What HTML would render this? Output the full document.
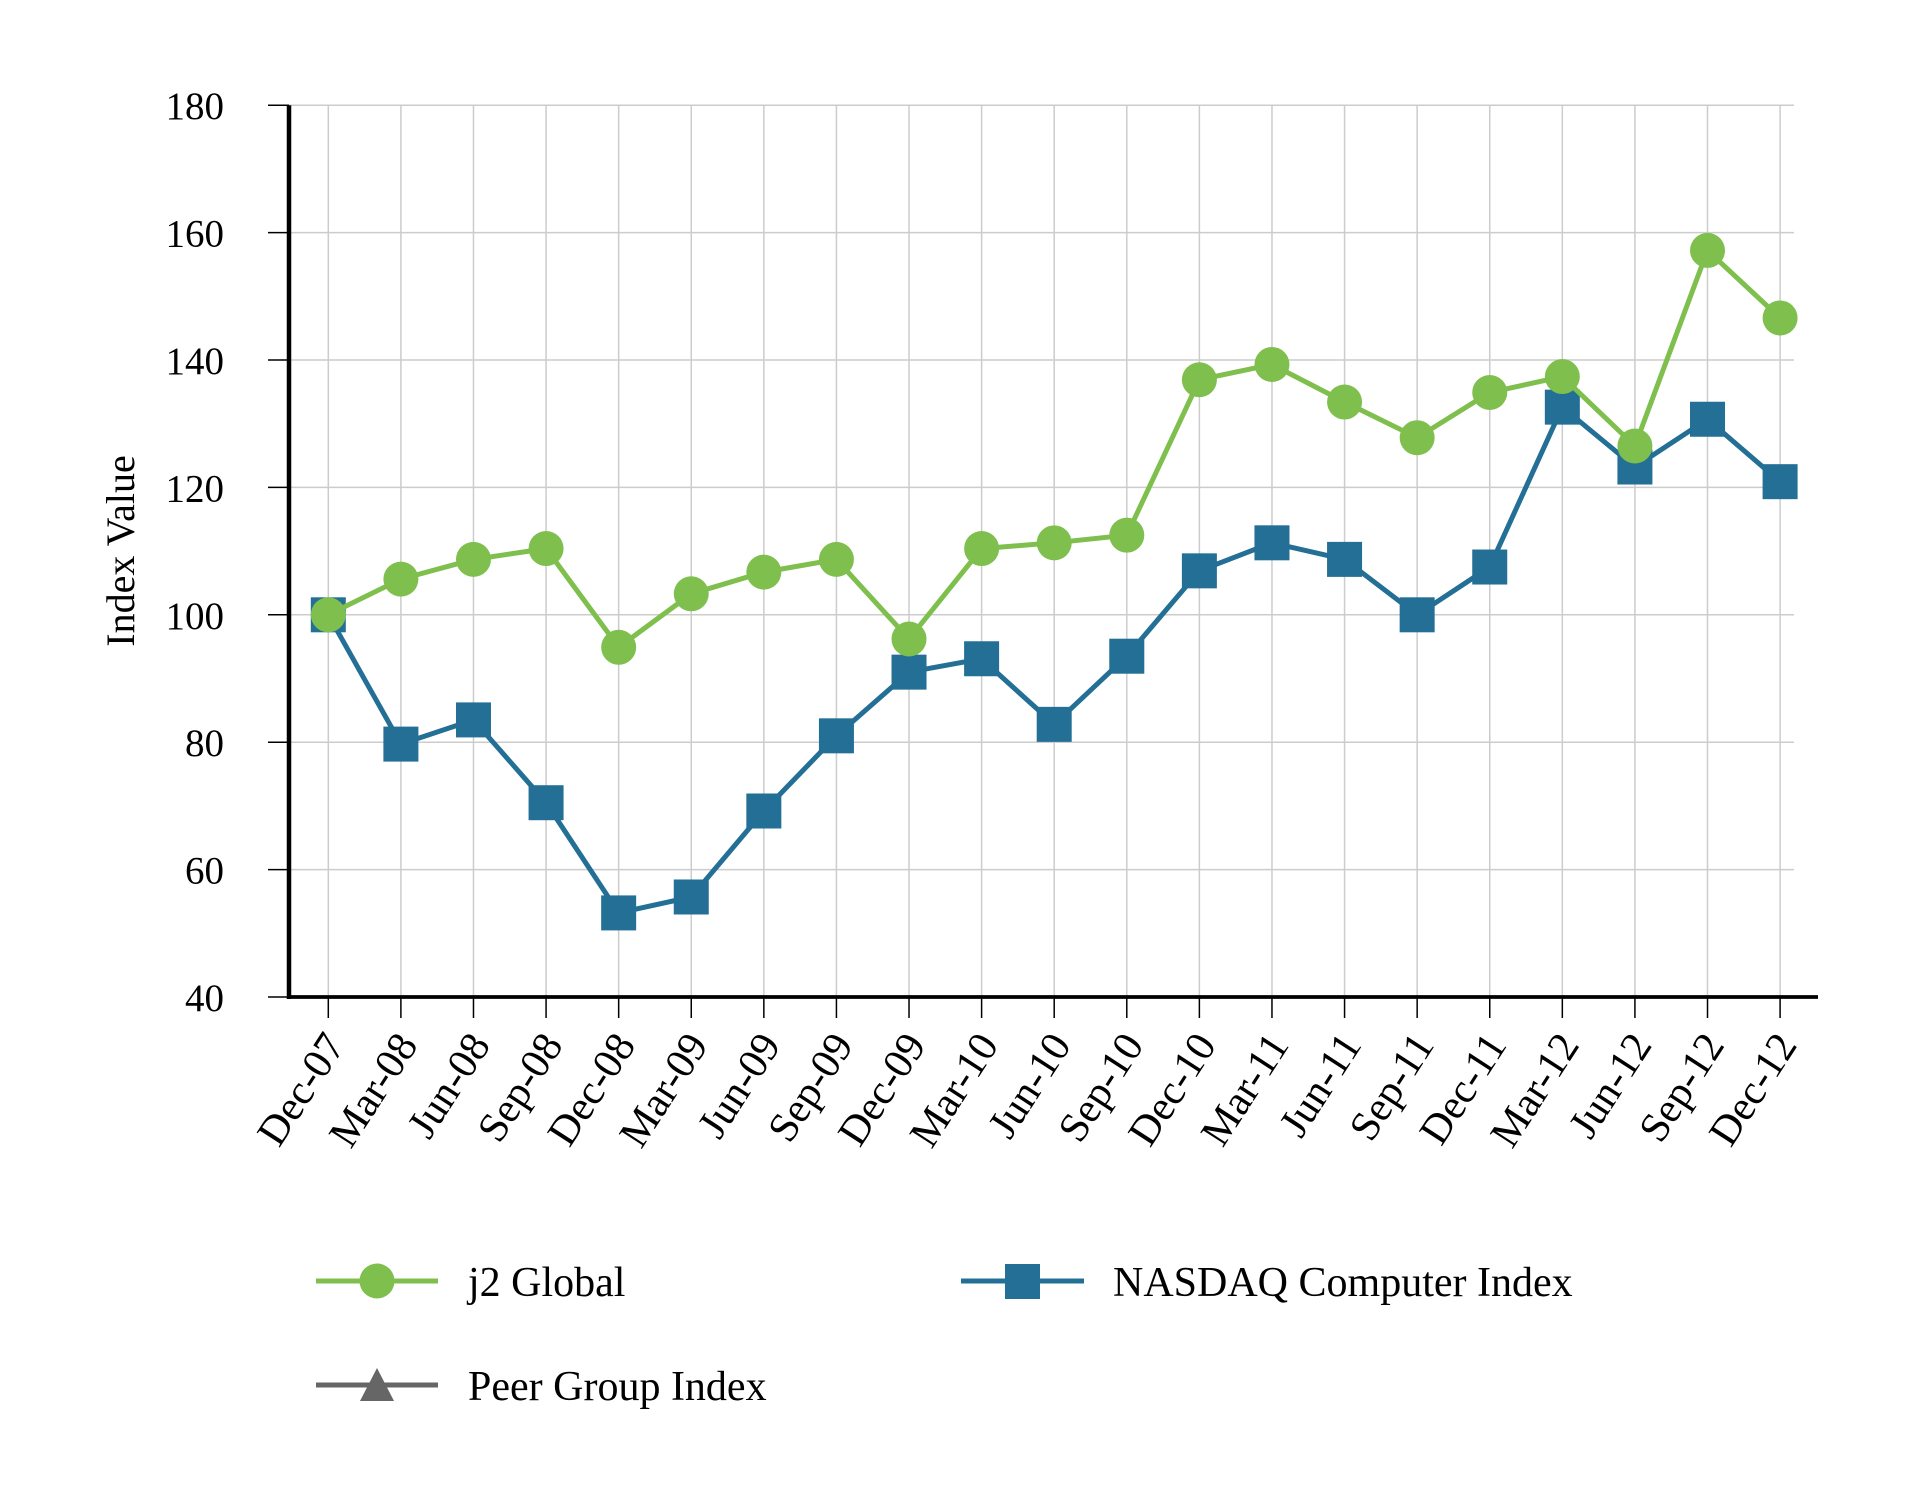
<!DOCTYPE html>
<html><head><meta charset="utf-8"><style>
html,body{margin:0;padding:0;background:#fff;}
svg{display:block;}
text{font-family:"Liberation Serif",serif;fill:#000;}
</style></head><body>
<svg width="1920" height="1500" viewBox="0 0 1920 1500" xmlns="http://www.w3.org/2000/svg">
<g id="grid" stroke="#cccccc" stroke-width="1.5"></g>
<g id="axes"></g>
<g id="series"></g>
<g id="labels"></g>
<text x="134" y="551" font-size="40" text-anchor="middle" transform="rotate(-90 134 551)">Index Value</text>
<!-- legend -->
<line x1="316" y1="1281" x2="438" y2="1281" stroke="#7fbf4d" stroke-width="5"/>
<circle cx="377" cy="1281" r="17.5" fill="#7fbf4d"/>
<text x="468" y="1296" font-size="42">j2 Global</text>
<line x1="961" y1="1281" x2="1084" y2="1281" stroke="#236f95" stroke-width="5"/>
<rect x="1005" y="1264" width="35" height="35" fill="#236f95"/>
<text x="1113" y="1296" font-size="42">NASDAQ Computer Index</text>
<line x1="316" y1="1385" x2="438" y2="1385" stroke="#666666" stroke-width="5"/>
<polygon points="377,1368 394,1401 360,1401" fill="#666666"/>
<text x="468" y="1400" font-size="42">Peer Group Index</text>
<script>
(function(){
var NS="http://www.w3.org/2000/svg";
function el(p,t,a,txt){var e=document.createElementNS(NS,t);for(var k in a)e.setAttribute(k,a[k]);if(txt)e.textContent=txt;p.appendChild(e);return e;}
var grid=document.getElementById('grid'),axes=document.getElementById('axes'),ser=document.getElementById('series'),lab=document.getElementById('labels');
function X(i){return 328.3+i*72.59;}
function Y(v){return 997-(v-40)*6.37;}
var months=["Dec-07","Mar-08","Jun-08","Sep-08","Dec-08","Mar-09","Jun-09","Sep-09","Dec-09","Mar-10","Jun-10","Sep-10","Dec-10","Mar-11","Jun-11","Sep-11","Dec-11","Mar-12","Jun-12","Sep-12","Dec-12"];
for(var v=60;v<=180;v+=20){el(grid,'line',{x1:289,x2:1794,y1:Y(v),y2:Y(v)});}
for(var i=0;i<21;i++){el(grid,'line',{x1:X(i),x2:X(i),y1:Y(180),y2:997});}
for(var v=40;v<=180;v+=20){
 el(axes,'line',{x1:268,x2:289,y1:Y(v),y2:Y(v),stroke:'#000','stroke-width':1.5});
 el(lab,'text',{x:224,y:Y(v)+14,'font-size':39,'text-anchor':'end'},String(v));
}
for(var i=0;i<21;i++){
 el(axes,'line',{x1:X(i),x2:X(i),y1:997,y2:1018,stroke:'#000','stroke-width':1.5});
 var ax=X(i)+18,ay=1045;
 el(lab,'text',{x:ax,y:ay,'font-size':42,'text-anchor':'end',transform:'rotate(-57 '+ax+' '+ay+')'},months[i]);
}
el(axes,'line',{x1:289,x2:289,y1:Y(180),y2:999,stroke:'#000','stroke-width':4.5});
el(axes,'line',{x1:287,x2:1818,y1:997,y2:997,stroke:'#000','stroke-width':3.7});
var j2=[100,105.6,108.7,110.4,94.9,103.3,106.7,108.7,96.2,110.4,111.3,112.5,136.9,139.3,133.4,127.8,134.9,137.4,126.5,157.2,146.6];
var nq=[100,79.7,83.5,70.5,53.2,55.7,69.2,81.0,91.0,93.1,82.8,93.5,106.9,111.3,108.7,100.0,107.5,132.6,123.2,130.7,120.9];
function pts(a){return a.map(function(v,i){return X(i).toFixed(1)+','+Y(v).toFixed(1);}).join(' ');}
el(ser,'polyline',{points:pts(nq),fill:'none',stroke:'#236f95','stroke-width':5});
nq.forEach(function(v,i){el(ser,'rect',{x:X(i)-17.5,y:Y(v)-17.5,width:35,height:35,fill:'#236f95'});});
el(ser,'polyline',{points:pts(j2),fill:'none',stroke:'#7fbf4d','stroke-width':5});
j2.forEach(function(v,i){el(ser,'circle',{cx:X(i),cy:Y(v),r:17.5,fill:'#7fbf4d'});});
})();
</script>
</svg>
</body></html>
